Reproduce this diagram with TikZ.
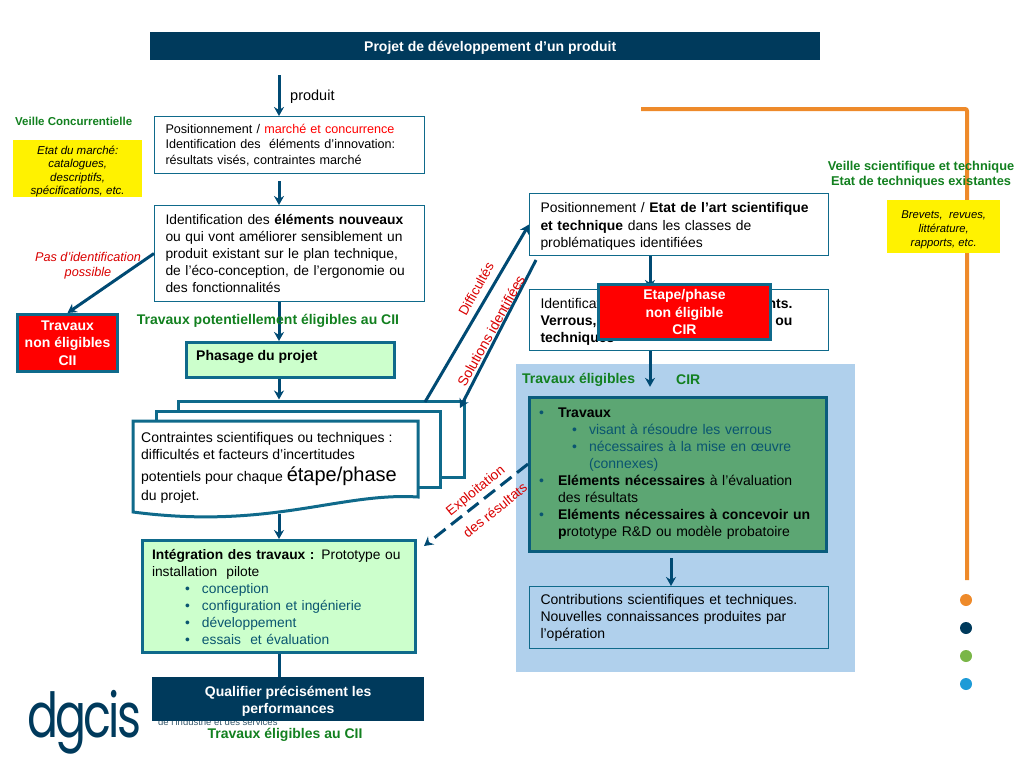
\documentclass[tikz,border=0pt]{standalone}
\usepackage{fontspec}
\setmainfont{Liberation Sans}
\newfontfamily\logofont[LetterSpace=-6]{Poppins}
\usepackage{tikz}
\usetikzlibrary{calc,arrows.meta,positioning}
\definecolor{navy}{HTML}{003A5C}
\definecolor{tealb}{HTML}{0F6A8B}
\definecolor{flowc}{HTML}{004A73}
\definecolor{greent}{HTML}{12801F}
\definecolor{mint}{HTML}{CCFFCC}
\definecolor{panelb}{HTML}{B0D0EC}
\definecolor{leaf}{HTML}{5CA673}
\definecolor{orangeb}{HTML}{EE8A2A}
\definecolor{listb}{HTML}{0A5570}
\definecolor{dotg}{HTML}{7AB648}
\definecolor{dotb}{HTML}{1E9BD7}
\newcommand{\hausse}[1]{\rule{0pt}{#1pt}}
\tikzset{
  tbox/.style={draw=tealb, line width=1pt, fill=white, anchor=north west, align=left, inner xsep=11pt, inner ysep=0pt, font=\fontsize{14}{17}\selectfont},
  mbox/.style={draw=tealb, line width=3pt, fill=mint, anchor=north west, align=left, inner xsep=9.5pt, inner ysep=0pt, font=\fontsize{14}{17}\selectfont},
  rbox/.style={draw=tealb, line width=3pt, fill=red, text=white, anchor=north west, align=center, inner sep=0pt, font=\bfseries\fontsize{14}{17.5}\selectfont},
  nbox/.style={fill=navy, text=white, anchor=north west, align=center, inner sep=0pt, font=\bfseries\fontsize{14}{17}\selectfont},
  ybox/.style={fill=yellow, anchor=north west, align=center, inner sep=0pt, font=\itshape\fontsize{11.5}{13.5}\selectfont},
  gtxt/.style={text=greent, inner sep=0pt, align=center, font=\bfseries\fontsize{14}{15.5}\selectfont},
  rtxt/.style={text=red!85!black, inner sep=0pt, align=center, font=\itshape\fontsize{12.7}{15.5}\selectfont},
  sheet/.style={draw=tealb, line width=3pt, fill=white, line join=miter},
  flow/.style={draw=flowc, line width=3pt, -{Stealth[length=9pt,width=10pt]}},
}
\begin{document}
\begin{tikzpicture}[x=1pt,y=-1pt]
  \useasboundingbox (0,0) rectangle (1024,768);
  \coordinate (axisL) at (279,0);
  \coordinate (axisR) at (650,0);

  %% ==================
  %% Veille (orange line)
  %% ==================
  \coordinate (orangeA) at (641,109);
  \coordinate (orangeB) at (967,109);
  \coordinate (orangeC) at (967,580);
  \draw[draw=orangeb, line width=4pt, rounded corners=2pt] (orangeA) -- (orangeB) -- (orangeC);
  \foreach \cy/\cc in {600/orangeb,628/navy,656/dotg,684/dotb}
    \fill[\cc] (966,\cy) circle (6);

  \node[gtxt, font=\bfseries\fontsize{12.8}{15.5}\selectfont] (veilleS) at (921,174.5) {Veille scientifique et technique\\Etat de techniques existantes};
  \node[ybox, minimum width=113pt, minimum height=53pt, font=\itshape\fontsize{11.3}{14}\selectfont] (brevets) at (887,200) {\hausse{14}Brevets,\ \ revues,\\littérature,\\rapports, etc.};

  \node[gtxt, font=\bfseries\fontsize{11.5}{13}\selectfont, anchor=west] (veilleC) at (15,121) {Veille Concurrentielle};
  \node[ybox, minimum width=129pt, minimum height=53pt] (marche) at (13,140) {\hausse{14}Etat du marché:\\catalogues,\\descriptifs,\\spécifications, etc.};

  %% ==================
  %% Left column
  %% ==================
  \node[nbox, minimum width=670pt, minimum height=28pt] (titre) at (150,32) {\hausse{14}\hspace*{10pt}Projet de développement d’un produit};
  \node[anchor=west, inner sep=0pt, font=\fontsize{14.5}{16}\selectfont] (produit) at (290,97) {produit};
  \coordinate (start) at (279,75);

  \node[tbox, text width=248pt, minimum height=57pt, font=\fontsize{12.6}{15.5}\selectfont] (posM) at (154,116)
    {Positionnement / \textcolor{red}{marché et concurrence}\\Identification des\ \ éléments d’innovation:\\résultats visés, contraintes marché};
  \node[tbox, text width=248pt, minimum height=96pt, font=\fontsize{13.8}{17}\selectfont] (nouveaux) at (154,205)
    {Identification des \textbf{éléments nouveaux}\\ou qui vont améliorer sensiblement un\\produit existant sur le plan technique,\\de l'éco-conception, de l'ergonomie ou\\des fonctionnalités};

  \node[rtxt] (pasid) at (88,265.5) {Pas d’identification\\possible};
  \node[rbox, minimum width=100pt, minimum height=57pt] (nonCII) at (16,313) {Travaux\\non éligibles\\CII};

  \draw[flow] (start) -- (posM.north -| axisL);
  \draw[flow, shorten <=7pt] (posM.south -| axisL) -- (nouveaux.north -| axisL);
  \draw[flow] (nouveaux.west) -- (nonCII.north);

  \node[mbox, minimum width=208pt, minimum height=35pt, inner sep=0pt] (phasage) at (185,341) {};
  \node[anchor=west, inner sep=0pt, font=\bfseries\fontsize{14}{16}\selectfont] (phasageT) at (196,357) {Phasage du projet};
  \draw[flow] (nouveaux.south -| axisL) -- (phasage.north -| axisL);
  \node[gtxt] (potent) at (268,321) {Travaux potentiellement éligibles au CII};

  %% stacked sheets
  \node[sheet, minimum width=286pt, minimum height=76pt, anchor=north west, inner sep=0pt] (feuilleA) at (176.5,399.5) {};
  \node[sheet, minimum width=284pt, minimum height=76pt, anchor=north west, inner sep=0pt] (feuilleB) at (154.5,409.5) {};
  \draw[flow] (phasage.south -| axisL) -- (feuilleA.north -| axisL);
  \draw[sheet] (133,421) -- (418,421) -- (418,497) .. controls (340,492) and (270,530) .. (133,512) -- cycle;
  \node[anchor=north west, align=left, inner sep=0pt, font=\fontsize{14}{17}\selectfont] (contraintes) at (141,432)
    {Contraintes scientifiques ou techniques :\\difficultés et facteurs d’incertitudes\\[5pt]potentiels pour chaque {\fontsize{20}{17}\selectfont étape/phase}\\[2pt]du projet.};
  \coordinate (feuilleBas) at (279,514);

  \node[mbox, text width=254pt, minimum height=112pt, font=\fontsize{13.8}{17}\selectfont] (integration) at (141,539)
    {\textbf{Intégration des travaux :} Prototype ou\\installation\ \ pilote\\
     \textcolor{listb}{\hspace*{33pt}\makebox[17pt][l]{•}conception}\\
     \textcolor{listb}{\hspace*{33pt}\makebox[17pt][l]{•}configuration et ingénierie}\\
     \textcolor{listb}{\hspace*{33pt}\makebox[17pt][l]{•}développement}\\
     \textcolor{listb}{\hspace*{33pt}\makebox[17pt][l]{•}essais\ \ et évaluation}};
  \draw[flow] (feuilleBas) -- (integration.north -| axisL);

  %% ==================
  %% Logo and bottom
  %% ==================
  \node[anchor=base west, inner sep=0pt, text=navy, xscale=0.74, font=\logofont\fontsize{62}{62}\selectfont] (dgcis) at (27,737) {dgcis};
  \node[anchor=west, inner sep=0pt, text=navy!60!gray, font=\fontsize{9.5}{10}\selectfont] (minefi) at (158,722) {de l’industrie et des services};
  \node[nbox, minimum width=272pt, minimum height=44pt] (qualifier) at (152,677) {\hausse{14}Qualifier précisément les\\performances};
  \draw[draw=flowc, line width=3pt] (integration.south -| axisL) -- (qualifier.north -| axisL);
  \node[gtxt] (eligCII) at (285,735) {Travaux éligibles au CII};

  %% ==================
  %% Right column
  %% ==================
  \node[draw=none, fill=panelb, anchor=north west, minimum width=339pt, minimum height=308pt, inner sep=0pt] (panel) at (516,364) {};
  \node[gtxt, anchor=west] (eligL) at (522,380) {Travaux éligibles};
  \node[gtxt, anchor=west] (eligR) at (676,380) {CIR};

  \node[tbox, text width=277pt, minimum height=62pt, font=\fontsize{13.9}{17.5}\selectfont] (posE) at (529,193)
    {\hausse{14}Positionnement / \textbf{Etat de l’art scientifique}\\\textbf{et technique} dans les classes de\\problématiques identifiées};
  \node[tbox, text width=277pt, minimum height=61pt] (verrous) at (529,289)
    {\hausse{13}Identification\hfill\textbf{nts.}\rule{25pt}{0pt}\\\textbf{Verrous,}\hfill\textbf{ou}\rule{25pt}{0pt}\\\textbf{techniques}};
  \draw[flow] (posE.south -| axisR) -- (verrous.north -| axisR);
  \node[rbox, minimum width=172pt, minimum height=55pt] (nonCIR) at (597,283) {Etape/phase\\non éligible\\CIR};
  \draw[flow] (verrous.south -| axisR) -- (axisR |- eligL.south);

  \node[mbox, fill=leaf, text width=278pt, minimum height=154pt, draw=tealb!70!navy] (travaux) at (528,396)
    {\textcolor{listb}{\makebox[19pt][l]{•}}\textbf{Travaux}\\
     \textcolor{listb}{\hspace*{33pt}\makebox[17pt][l]{•}visant à résoudre les verrous}\\
     \textcolor{listb}{\hspace*{33pt}\makebox[17pt][l]{•}nécessaires à la mise en œuvre}\\
     \textcolor{listb}{\hspace*{50pt}(connexes)}\\
     \textcolor{listb}{\makebox[19pt][l]{•}}\textbf{Eléments nécessaires} à l'évaluation\\
     \hspace*{19pt}des résultats\\
     \textcolor{listb}{\makebox[19pt][l]{•}}\textbf{Eléments nécessaires à concevoir un}\\
     \hspace*{19pt}\textbf{p}rototype R\&D ou modèle probatoire\rule[-5pt]{0pt}{5pt}};

  \node[tbox, fill=panelb, text width=277pt, minimum height=62pt] (contrib) at (529,586)
    {Contributions scientifiques et techniques.\\Nouvelles connaissances produites par\\l’opération};
  \coordinate (axisC) at (671,0);
  \draw[flow] ($(travaux.south -| axisC)+(0,5)$) -- (contrib.north -| axisC);

  %% ==================
  %% Diagonal links
  %% ==================
  \coordinate (diffBas) at (425,402);
  \coordinate (solHaut) at (536,260);
  \coordinate (solBas) at (460,408);
  \coordinate (expHaut) at (528,464);
  \coordinate (expBas) at (424,546);
  \draw[flow] (diffBas) -- (posE.west);
  \draw[flow] (solHaut) -- (solBas);
  \draw[flow, dashed, dash pattern=on 14pt off 7pt] (expHaut) -- (expBas);

  \node[rtxt, font=\fontsize{13.5}{16}\selectfont, rotate=61] (difficultes) at (476,289) {Difficultés};
  \node[rtxt, font=\fontsize{14}{16}\selectfont, rotate=61] (solutions) at (491,331) {Solutions identifiées};
  \node[rtxt, font=\fontsize{13.7}{16}\selectfont, rotate=39] (exploit) at (476,491) {Exploitation};
  \node[rtxt, font=\fontsize{13.7}{16}\selectfont, rotate=39] (resultats) at (495,510) {des résultats};
\end{tikzpicture}
\end{document}
